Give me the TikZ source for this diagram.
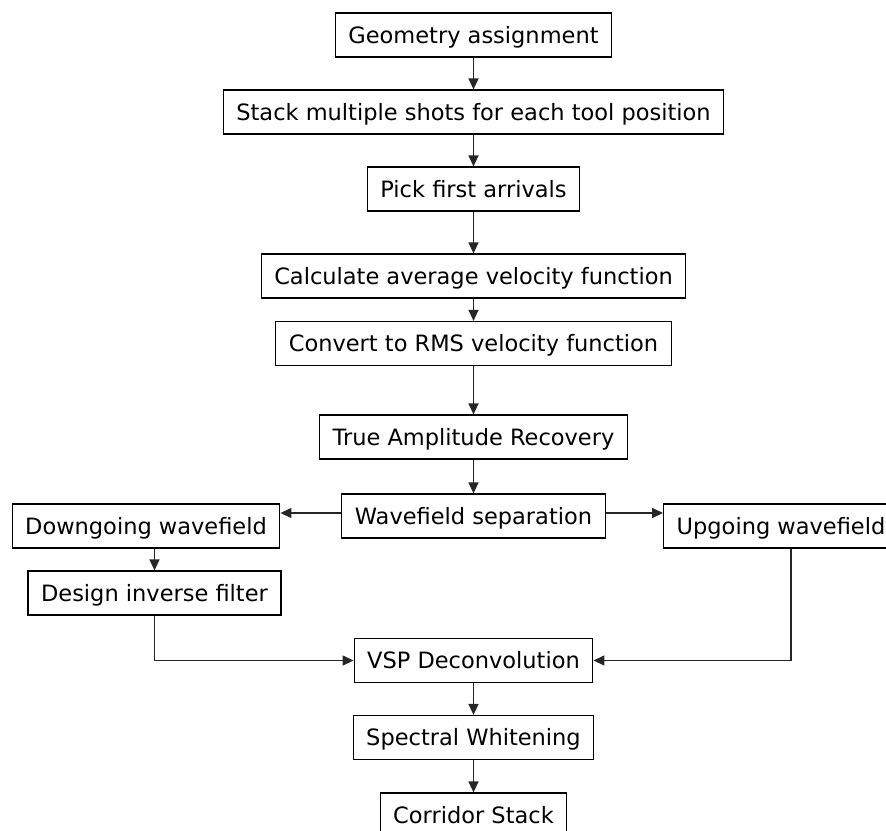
\documentclass[tikz,border=0pt]{standalone}
\usepackage{fontspec}
\setmainfont{DejaVu Sans}
\usetikzlibrary{arrows.meta, positioning, calc}
\tikzset{
  procbox/.style={rectangle, draw=black, line width=1.2pt, fill=white,
                  inner xsep=13pt, minimum height=44pt,
                  text height=16pt, text depth=0pt,
                  font=\fontsize{22.5}{26}\selectfont},
  link/.style={-{Triangle[length=11pt,width=10pt]}, line width=1.3pt, draw=black!85},
}

\begin{document}
\begin{tikzpicture}[x=1pt, y=1pt]
  \useasboundingbox (0,0) rectangle (886,-830);

  % Main processing column
  \node[procbox] (geo)   at (473.5, -35)   {Geometry assignment};
  \node[procbox] (stack) at (473.5, -112)  {Stack multiple shots for each tool position};
  \node[procbox] (pick)  at (473.5, -189)  {Pick first arrivals};
  \node[procbox] (calc)  at (473.5, -276)  {Calculate average velocity function};
  \node[procbox] (conv)  at (473.5, -343.5){Convert to RMS velocity function};
  \node[procbox] (true)  at (473.5, -437)  {True Amplitude Recovery};
  \node[procbox] (sep)   at (473.5, -516)  {Wavefield separation};

  % Split into down- and upgoing branches
  \node[procbox] (down)   at (146, -526)   {Downgoing wavefield};
  \node[procbox] (up)     at (781, -526)   {Upgoing wavefield};
  \node[procbox] (design) at (154.5, -593) {Design inverse filter};

  % Back to the main column
  \node[procbox] (vsp)  at (473.5, -660.5) {VSP Deconvolution};
  \node[procbox] (spec) at (473.5, -737.5) {Spectral Whitening};
  \node[procbox] (corr) at (473.5, -815)   {Corridor Stack};

  % Straight links down the column
  \foreach \a/\b in {geo/stack, stack/pick, pick/calc, calc/conv, conv/true,
                     true/sep, vsp/spec, spec/corr}
    {\draw[link] (\a) -- (\b);}

  % Branch links
  \draw[link] ([yshift=3pt]sep.west) -- ([yshift=3pt]sep.west -| down.east);
  \draw[link] ([yshift=3pt]sep.east) -- ([yshift=3pt]sep.east -| up.west);
  \draw[link] (design.north |- down.south) -- (design.north);
  \draw[link] (design.south) |- (vsp.west);
  \draw[link] ([xshift=10pt]up.south) |- (vsp.east);

\end{tikzpicture}
\end{document}
